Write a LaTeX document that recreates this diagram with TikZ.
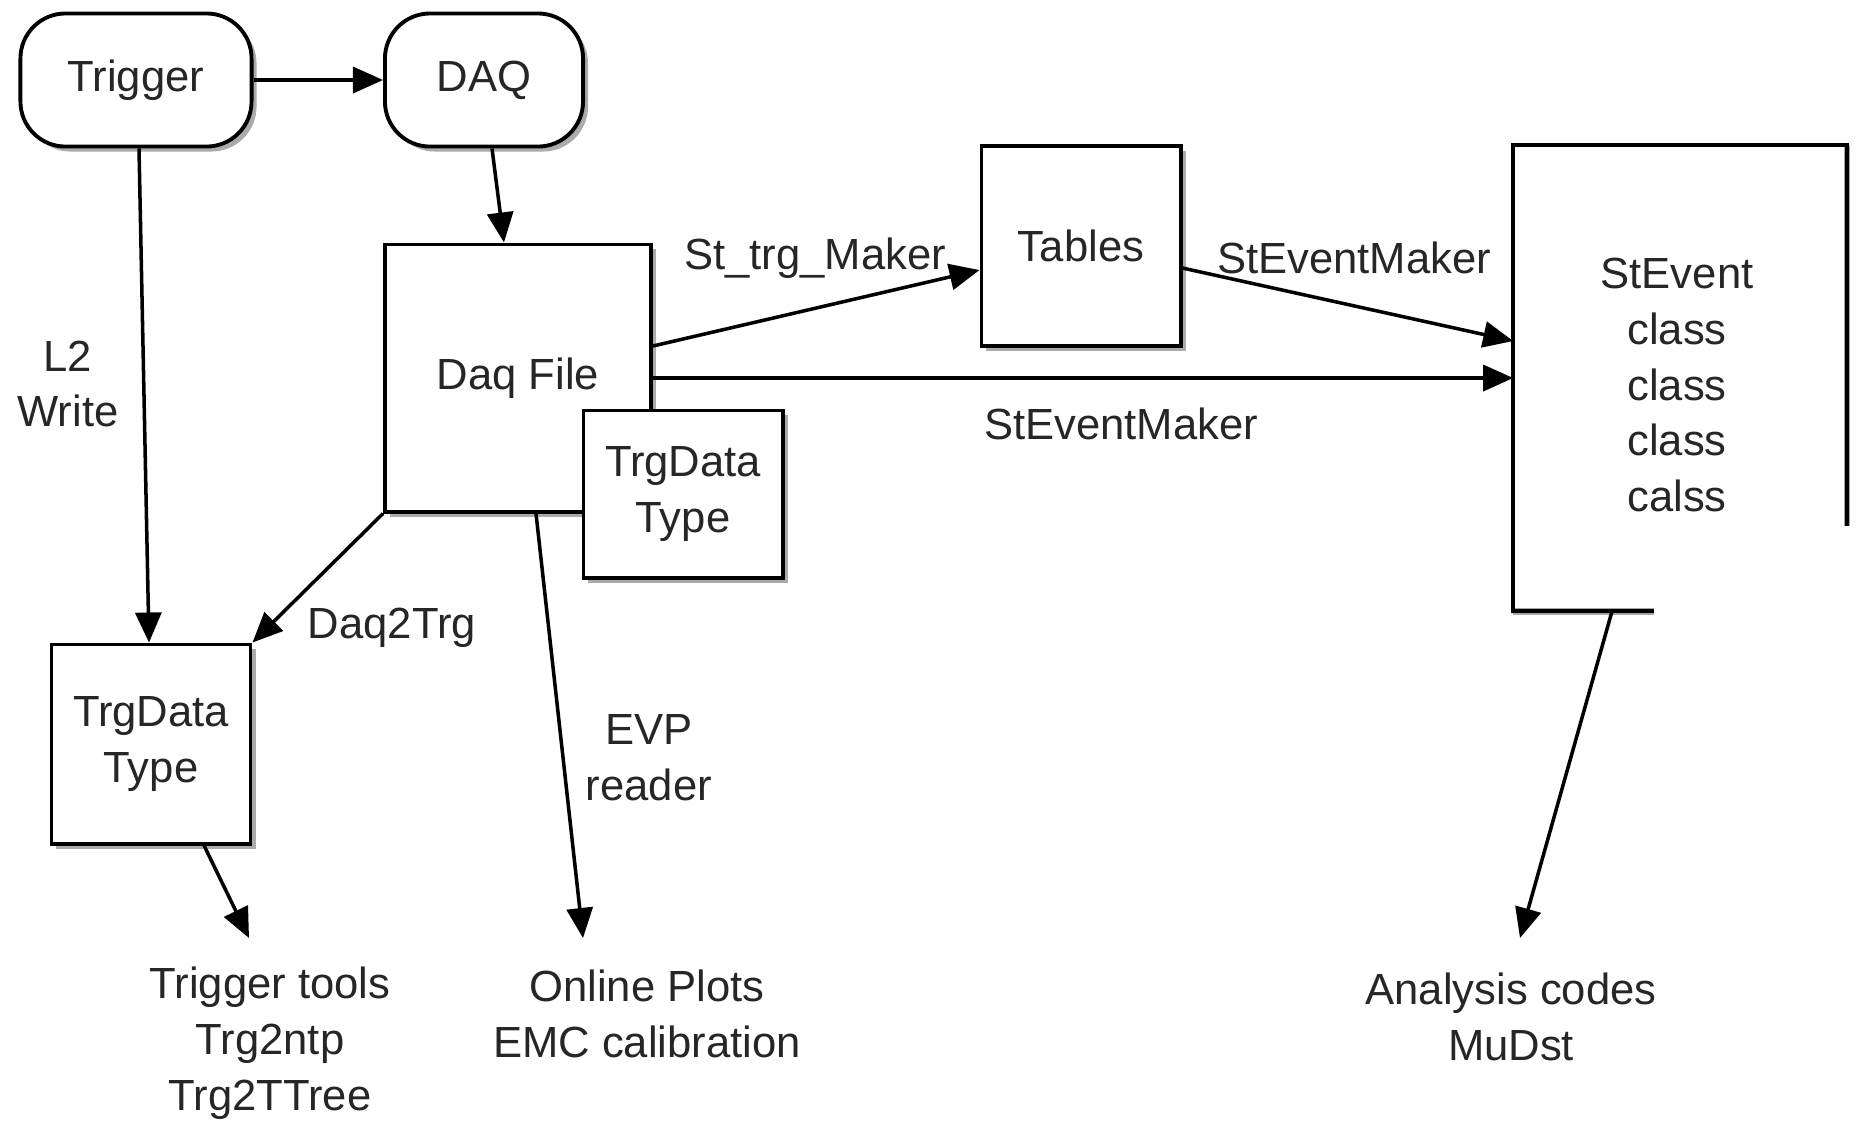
\documentclass[tikz,border=0pt]{standalone}
\usepackage{fontspec}
\setmainfont{Liberation Sans}
\usepackage{tikz}
\usetikzlibrary{arrows.meta,shadows}

\begin{document}
\begin{tikzpicture}
  [x=0.01cm, y=-0.01cm,
    font=\fontsize{12.4}{15.9}\selectfont,
    shade/.style={drop shadow={shadow xshift=0.05cm, shadow yshift=-0.05cm, opacity=0.55, fill=black!60}},
    terminal/.style={rectangle, rounded corners=0.45cm, draw=black, line width=1.1pt, fill=white, minimum height=1.33cm, text=black!85, shade},
    block/.style={rectangle, draw=black, line width=1.1pt, fill=white, align=center, text=black!85, shade},
    note/.style={align=center, text=black!85},
    flow/.style={draw=black, line width=1pt, -{Triangle[length=0.3cm, width=0.26cm]}}
  ]
  \useasboundingbox (0,0) rectangle (1858,1120);

  % sources
  \node[terminal, minimum width=2.31cm] (trigger) at (136,80) {Trigger};
  \node[terminal, minimum width=1.98cm] (daq)     at (484,80) {DAQ};

  % boxes
  \node[block, minimum width=2.66cm, minimum height=2.67cm] (daqfile) at (518,378)  {Daq File};
  \node[block, minimum width=1.99cm, minimum height=1.67cm] (trgin)   at (683,494)  {TrgData\\Type};
  \node[block, minimum width=1.99cm, minimum height=2.00cm] (tables)  at (1081,246) {Tables};
  \node[block, minimum width=1.99cm, minimum height=1.99cm] (trgleft) at (151,744)  {TrgData\\Type};

  % StEvent, cut at the right and bottom
  \node[note, minimum width=3.32cm, minimum height=4.65cm] (stevent) at (1680,378) {};
  \node[note] (stclasses) at (1677,385) {StEvent\\class\\class\\class\\calss};
  \draw[black!35, line width=1.8pt, shift={(5,5)}]
    ([xshift=1.41cm]stevent.south west) -- (stevent.south west)
    (stevent.north east) -- ([yshift=-3.81cm]stevent.north east);
  \draw[line width=1.1pt]
    ([xshift=1.41cm]stevent.south west) -- (stevent.south west)
    -- (stevent.north west) -- (stevent.north east)
    -- ([yshift=-3.81cm]stevent.north east);

  % outputs
  \node[note] (tools)    at (270,1043) {Trigger tools\\Trg2ntp\\Trg2TTree};
  \node[note] (online)   at (647,1014) {Online Plots\\EMC calibration};
  \node[note] (analysis) at (1511,1017) {Analysis codes\\MuDst};
  \coordinate (tools_in)    at (249,938);
  \coordinate (online_in)   at (583,938);
  \coordinate (analysis_in) at (1520,938);

  % labels
  \node[note] (l2write)   at (68,384)   {L2\\Write};
  \node[note] (daq2trg)   at (392,628)  {Daq2Trg};
  \node[note] (evpreader) at (649,758)  {EVP\\reader};
  \node[note] (sttrg)     at (815,258)  {St\_trg\_Maker};
  \node[note] (stevmk1)   at (1354,258) {StEventMaker};
  \node[note] (stevmk2)   at (1121,424) {StEventMaker};

  % connectors
  \draw[flow] (trigger.east) -- (daq.west);
  \draw[flow] ([xshift=0.03cm]trigger.south) -- ([xshift=-0.02cm]trgleft.north);
  \draw[flow] ([xshift=0.08cm]daq.south) -- ([xshift=-0.14cm]daqfile.north);
  \draw[flow] (daqfile.south west) -- (trgleft.north east);
  \draw[flow] ([xshift=0.18cm]daqfile.south) -- (online_in);
  \draw[flow] ([xshift=0.53cm]trgleft.south) -- (tools_in);
  \draw[flow] ([yshift=0.32cm]daqfile.east) -- ([yshift=-0.24cm]tables.west);
  \draw[flow] (daqfile.east) -- (daqfile.east -| stevent.west);
  \draw[flow] ([yshift=-0.22cm]tables.east) -- ([yshift=0.37cm]stevent.west);
  \draw[flow] ([xshift=-0.68cm]stevent.south) -- (analysis_in);

\end{tikzpicture}
\end{document}
